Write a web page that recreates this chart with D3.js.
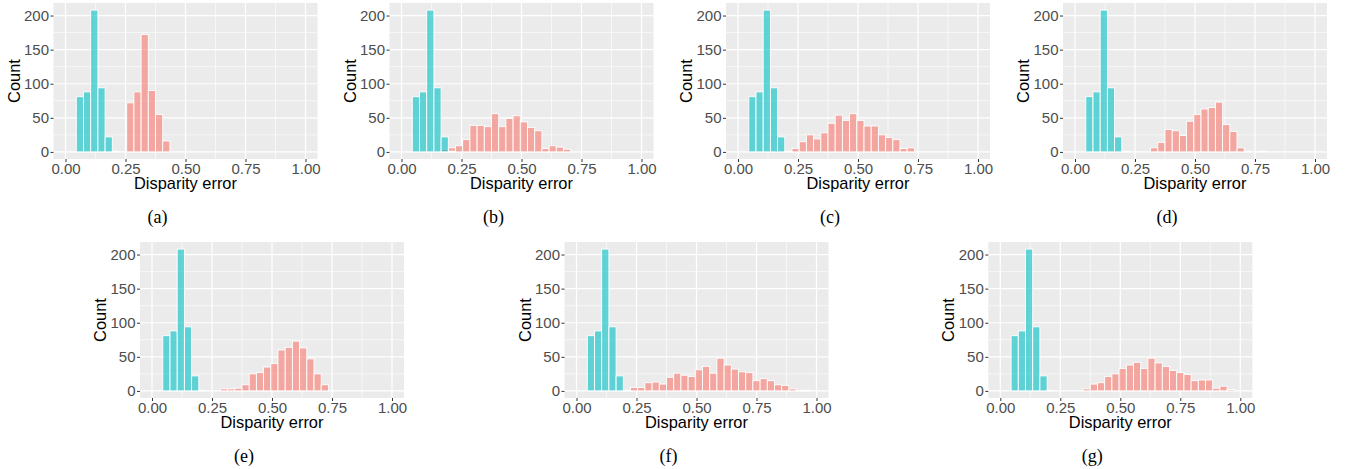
<!DOCTYPE html>
<html>
<head>
<meta charset="utf-8">
<script src="https://cdn.jsdelivr.net/npm/d3@7"></script>
<style>
  body { margin: 0; background: #fff; }
  svg { display: block; }
</style>
</head>
<body>
<svg id="chart" width="1350" height="469"></svg>
<script>
// bin centers (bin width 0.03)
const binWidth = 0.03;
const binCenters = [0.03, 0.06, 0.09, 0.12, 0.15, 0.18, 0.21, 0.24, 0.27, 0.30, 0.33, 0.36,
  0.39, 0.42, 0.45, 0.48, 0.51, 0.54, 0.57, 0.60, 0.63, 0.66, 0.69, 0.72,
  0.75, 0.78, 0.81, 0.84, 0.87, 0.90, 0.93, 0.96];

// cyan series is the same in every panel
const cyanCounts = [0, 81, 88, 208, 94, 22, 1, 0, 0, 0, 0, 0, 0, 0, 0, 0,
  0, 0, 0, 0, 0, 0, 0, 0, 0, 0, 0, 0, 0, 0, 0, 0];

// red series, one per panel
const redA = [0, 0, 0, 0, 0, 0, 0, 0, 72, 88, 172, 90, 55, 16, 0, 0,
  0, 0, 0, 0, 0, 0, 0, 0, 0, 0, 0, 0, 0, 0, 0, 0];
const redB = [0, 0, 0, 0, 0, 4, 6, 9, 18, 39, 39, 37, 56, 37, 49, 53,
  44, 36, 31, 5, 9, 7, 4, 0, 0, 0, 0, 0, 0, 0, 0, 0];
const redC = [0, 0, 0, 0, 0, 0, 0, 5, 15, 25, 19, 28, 42, 54, 46, 56,
  46, 38, 38, 25, 21, 18, 5, 6, 0, 0, 0, 0, 0, 0, 0, 0];
const redD = [0, 0, 0, 0, 0, 0, 0, 0, 0, 0, 6, 14, 33, 31, 24, 45,
  55, 63, 65, 73, 40, 30, 6, 1, 0, 1, 0, 0, 0, 0, 0, 0];
const redE = [0, 0, 0, 0, 0, 0, 0, 0, 0, 3, 3, 4, 9, 25, 27, 35,
  40, 60, 64, 73, 63, 47, 25, 9, 0, 0, 0, 0, 0, 0, 0, 0];
const redF = [0, 0, 0, 0, 0, 0, 0, 5, 5, 12, 13, 10, 20, 26, 23, 21,
  31, 36, 26, 48, 38, 32, 28, 27, 15, 18, 15, 9, 8, 3, 1, 1];
const redG = [0, 0, 0, 0, 0, 0, 0, 0, 0, 0, 0, 3, 10, 12, 21, 25,
  33, 38, 42, 33, 48, 41, 36, 30, 27, 24, 15, 16, 16, 4, 7, 2];

const panelNames = ["(a)", "(b)", "(c)", "(d)", "(e)", "(f)", "(g)"];
const redSeries = [redA, redB, redC, redD, redE, redF, redG];

const xTicks = [0, 0.25, 0.5, 0.75, 1];
const xMinor = [0.125, 0.375, 0.625, 0.875];
const yTicks = [0, 50, 100, 150, 200];
const yMinor = [25, 75, 125, 175];

// layout
const panelW = 264, panelH = 156;
const positions = [
  [53.5, 3], [389.5, 3], [726, 3], [1063, 3],
  [140, 242], [564.5, 242], [988.3, 242]
];

const sans = "'Liberation Sans', Arial, sans-serif";
const serif = "'Liberation Serif', 'Times New Roman', serif";

const x = d3.scaleLinear().domain([-0.05, 1.05]).range([0, panelW]);
const y = d3.scaleLinear().domain([-10.4, 218.4]).range([panelH, 0]);

const svg = d3.select("#chart");

panelNames.forEach((name, i) => {
  const g = svg.append("g")
    .attr("transform", `translate(${positions[i][0]}, ${positions[i][1]})`);

  g.append("rect")
    .attr("width", panelW)
    .attr("height", panelH)
    .attr("fill", "#EBEBEB");

  // grid
  g.selectAll(".ymin").data(yMinor).join("line")
    .attr("x1", 0).attr("x2", panelW)
    .attr("y1", d => y(d)).attr("y2", d => y(d))
    .attr("stroke", "#fff").attr("stroke-width", 0.6);
  g.selectAll(".xmin").data(xMinor).join("line")
    .attr("y1", 0).attr("y2", panelH)
    .attr("x1", d => x(d)).attr("x2", d => x(d))
    .attr("stroke", "#fff").attr("stroke-width", 0.6);
  g.selectAll(".ymaj").data(yTicks).join("line")
    .attr("x1", 0).attr("x2", panelW)
    .attr("y1", d => y(d)).attr("y2", d => y(d))
    .attr("stroke", "#fff").attr("stroke-width", 1.2);
  g.selectAll(".xmaj").data(xTicks).join("line")
    .attr("y1", 0).attr("y2", panelH)
    .attr("x1", d => x(d)).attr("x2", d => x(d))
    .attr("stroke", "#fff").attr("stroke-width", 1.2);

  // bars: red first, cyan on top
  const series = [
    { counts: redSeries[i], color: "#F8766D" },
    { counts: cyanCounts, color: "#00BFC4" }
  ];
  series.forEach(s => {
    g.append("g").selectAll("rect")
      .data(binCenters.map((c, k) => ({ c, n: s.counts[k] })))
      .join("rect")
      .attr("x", d => x(d.c - binWidth / 2))
      .attr("width", d => x(d.c + binWidth / 2) - x(d.c - binWidth / 2))
      .attr("y", d => y(d.n))
      .attr("height", d => y(0) - y(d.n))
      .attr("fill", s.color)
      .attr("fill-opacity", 0.6)
      .attr("stroke", "#fff")
      .attr("stroke-width", 0.9);
  });

  // axes
  const xAxis = g.append("g")
    .attr("transform", `translate(0, ${panelH})`)
    .call(d3.axisBottom(x).tickValues(xTicks).tickFormat(d3.format(".2f")).tickSize(3).tickPadding(1));
  const yAxis = g.append("g")
    .call(d3.axisLeft(y).tickValues(yTicks).tickFormat(d3.format("d")).tickSize(3).tickPadding(1.5));
  [xAxis, yAxis].forEach(a => {
    a.select(".domain").remove();
    a.selectAll(".tick line").attr("stroke", "#333333").attr("stroke-width", 1);
    a.selectAll(".tick text")
      .attr("fill", "#4D4D4D")
      .style("font-family", sans)
      .style("font-size", "15px");
  });

  g.append("text")
    .attr("x", panelW / 2)
    .attr("y", panelH + 30)
    .attr("text-anchor", "middle")
    .style("font-family", sans)
    .style("font-size", "16.4px")
    .attr("fill", "#000")
    .text("Disparity error");

  g.append("text")
    .attr("transform", `translate(-34, ${panelH / 2}) rotate(-90)`)
    .attr("text-anchor", "middle")
    .style("font-family", sans)
    .style("font-size", "16.4px")
    .attr("fill", "#000")
    .text("Count");

  g.append("text")
    .attr("x", 104)
    .attr("y", 220)
    .attr("text-anchor", "middle")
    .style("font-family", serif)
    .style("font-size", "18px")
    .attr("fill", "#000")
    .text(name);
});
</script>
</body>
</html>
